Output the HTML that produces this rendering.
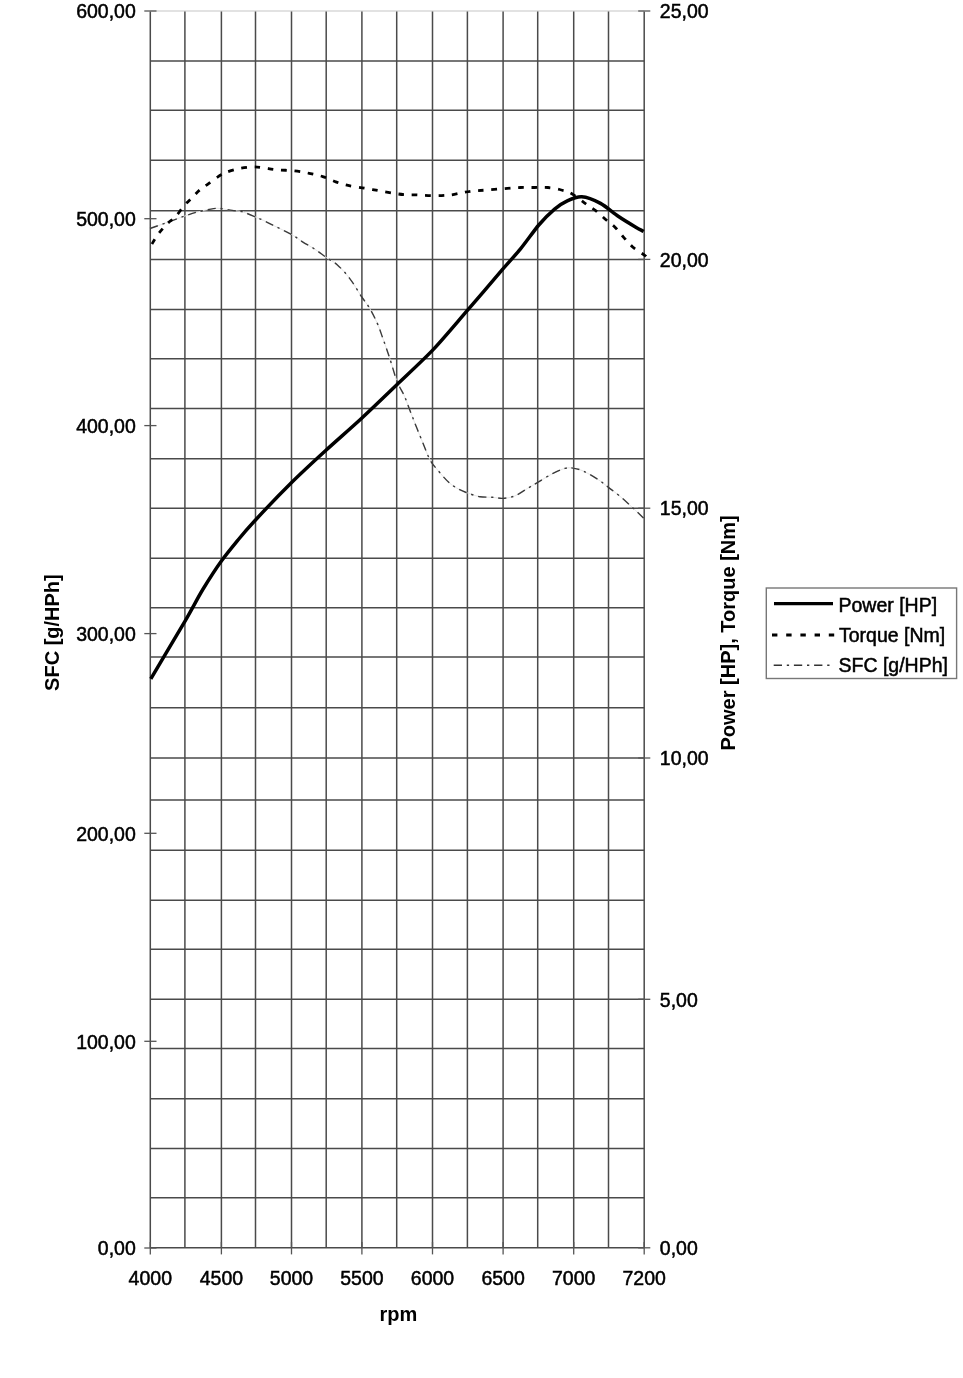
<!DOCTYPE html><html><head><meta charset="utf-8"><style>html,body{margin:0;padding:0;background:#fff;}svg{display:block;will-change:transform;}text{font-family:"Liberation Sans", sans-serif;fill:#000;stroke:#000;stroke-width:0.5px;}</style></head><body>
<svg width="963" height="1378" viewBox="0 0 963 1378">
<rect width="963" height="1378" fill="#fff"/>
<line x1="150.3" y1="11.0" x2="644.2" y2="11.0" stroke="#d8d8d8" stroke-width="1.6"/><line x1="150.3" y1="61.0" x2="644.2" y2="61.0" stroke="#4a4a4a" stroke-width="1.5"/><line x1="150.3" y1="110.2" x2="644.2" y2="110.2" stroke="#4a4a4a" stroke-width="1.5"/><line x1="150.3" y1="160.3" x2="644.2" y2="160.3" stroke="#4a4a4a" stroke-width="1.5"/><line x1="150.3" y1="210.7" x2="644.2" y2="210.7" stroke="#4a4a4a" stroke-width="1.5"/><line x1="150.3" y1="259.4" x2="644.2" y2="259.4" stroke="#4a4a4a" stroke-width="1.5"/><line x1="150.3" y1="309.4" x2="644.2" y2="309.4" stroke="#4a4a4a" stroke-width="1.5"/><line x1="150.3" y1="358.8" x2="644.2" y2="358.8" stroke="#4a4a4a" stroke-width="1.5"/><line x1="150.3" y1="408.6" x2="644.2" y2="408.6" stroke="#4a4a4a" stroke-width="1.5"/><line x1="150.3" y1="458.7" x2="644.2" y2="458.7" stroke="#4a4a4a" stroke-width="1.5"/><line x1="150.3" y1="508.2" x2="644.2" y2="508.2" stroke="#4a4a4a" stroke-width="1.5"/><line x1="150.3" y1="558.2" x2="644.2" y2="558.2" stroke="#4a4a4a" stroke-width="1.5"/><line x1="150.3" y1="607.8" x2="644.2" y2="607.8" stroke="#4a4a4a" stroke-width="1.5"/><line x1="150.3" y1="657.1" x2="644.2" y2="657.1" stroke="#4a4a4a" stroke-width="1.5"/><line x1="150.3" y1="707.8" x2="644.2" y2="707.8" stroke="#4a4a4a" stroke-width="1.5"/><line x1="150.3" y1="758.0" x2="644.2" y2="758.0" stroke="#4a4a4a" stroke-width="1.5"/><line x1="150.3" y1="800.0" x2="644.2" y2="800.0" stroke="#4a4a4a" stroke-width="1.5"/><line x1="150.3" y1="850.2" x2="644.2" y2="850.2" stroke="#4a4a4a" stroke-width="1.5"/><line x1="150.3" y1="900.3" x2="644.2" y2="900.3" stroke="#4a4a4a" stroke-width="1.5"/><line x1="150.3" y1="949.3" x2="644.2" y2="949.3" stroke="#4a4a4a" stroke-width="1.5"/><line x1="150.3" y1="999.3" x2="644.2" y2="999.3" stroke="#4a4a4a" stroke-width="1.5"/><line x1="150.3" y1="1048.5" x2="644.2" y2="1048.5" stroke="#4a4a4a" stroke-width="1.5"/><line x1="150.3" y1="1098.7" x2="644.2" y2="1098.7" stroke="#4a4a4a" stroke-width="1.5"/><line x1="150.3" y1="1148.5" x2="644.2" y2="1148.5" stroke="#4a4a4a" stroke-width="1.5"/><line x1="150.3" y1="1197.7" x2="644.2" y2="1197.7" stroke="#4a4a4a" stroke-width="1.5"/><line x1="150.3" y1="1247.8" x2="644.2" y2="1247.8" stroke="#4a4a4a" stroke-width="1.5"/><line x1="150.3" y1="11.5" x2="150.3" y2="1247.8" stroke="#4a4a4a" stroke-width="1.5"/><line x1="184.9" y1="11.5" x2="184.9" y2="1247.8" stroke="#4a4a4a" stroke-width="1.5"/><line x1="221.4" y1="11.5" x2="221.4" y2="1247.8" stroke="#4a4a4a" stroke-width="1.5"/><line x1="255.5" y1="11.5" x2="255.5" y2="1247.8" stroke="#4a4a4a" stroke-width="1.5"/><line x1="291.5" y1="11.5" x2="291.5" y2="1247.8" stroke="#4a4a4a" stroke-width="1.5"/><line x1="326.2" y1="11.5" x2="326.2" y2="1247.8" stroke="#4a4a4a" stroke-width="1.5"/><line x1="361.9" y1="11.5" x2="361.9" y2="1247.8" stroke="#4a4a4a" stroke-width="1.5"/><line x1="396.7" y1="11.5" x2="396.7" y2="1247.8" stroke="#4a4a4a" stroke-width="1.5"/><line x1="432.5" y1="11.5" x2="432.5" y2="1247.8" stroke="#4a4a4a" stroke-width="1.5"/><line x1="467.4" y1="11.5" x2="467.4" y2="1247.8" stroke="#4a4a4a" stroke-width="1.5"/><line x1="503.1" y1="11.5" x2="503.1" y2="1247.8" stroke="#4a4a4a" stroke-width="1.5"/><line x1="537.7" y1="11.5" x2="537.7" y2="1247.8" stroke="#4a4a4a" stroke-width="1.5"/><line x1="573.7" y1="11.5" x2="573.7" y2="1247.8" stroke="#4a4a4a" stroke-width="1.5"/><line x1="608.5" y1="11.5" x2="608.5" y2="1247.8" stroke="#4a4a4a" stroke-width="1.5"/><line x1="644.2" y1="11.5" x2="644.2" y2="1247.8" stroke="#4a4a4a" stroke-width="1.5"/>
<line x1="144.3" y1="11.0" x2="156.5" y2="11.0" stroke="#555" stroke-width="1.3"/><text x="135.8" y="18.2" font-size="19.5" text-anchor="end">600,00</text><line x1="144.3" y1="218.7" x2="156.5" y2="218.7" stroke="#555" stroke-width="1.3"/><text x="135.8" y="225.9" font-size="19.5" text-anchor="end">500,00</text><line x1="144.3" y1="425.6" x2="156.5" y2="425.6" stroke="#555" stroke-width="1.3"/><text x="135.8" y="432.8" font-size="19.5" text-anchor="end">400,00</text><line x1="144.3" y1="633.6" x2="156.5" y2="633.6" stroke="#555" stroke-width="1.3"/><text x="135.8" y="640.8" font-size="19.5" text-anchor="end">300,00</text><line x1="144.3" y1="833.3" x2="156.5" y2="833.3" stroke="#555" stroke-width="1.3"/><text x="135.8" y="840.5" font-size="19.5" text-anchor="end">200,00</text><line x1="144.3" y1="1041.3" x2="156.5" y2="1041.3" stroke="#555" stroke-width="1.3"/><text x="135.8" y="1048.5" font-size="19.5" text-anchor="end">100,00</text><line x1="144.3" y1="1248.0" x2="156.5" y2="1248.0" stroke="#555" stroke-width="1.3"/><text x="135.8" y="1255.2" font-size="19.5" text-anchor="end">0,00</text><line x1="638.2" y1="11.0" x2="650.3" y2="11.0" stroke="#555" stroke-width="1.3"/><text x="659.8" y="18.2" font-size="19.5">25,00</text><line x1="638.2" y1="259.4" x2="650.3" y2="259.4" stroke="#555" stroke-width="1.3"/><text x="659.8" y="266.6" font-size="19.5">20,00</text><line x1="638.2" y1="508.2" x2="650.3" y2="508.2" stroke="#555" stroke-width="1.3"/><text x="659.8" y="515.4" font-size="19.5">15,00</text><line x1="638.2" y1="758.0" x2="650.3" y2="758.0" stroke="#555" stroke-width="1.3"/><text x="659.8" y="765.2" font-size="19.5">10,00</text><line x1="638.2" y1="999.3" x2="650.3" y2="999.3" stroke="#555" stroke-width="1.3"/><text x="659.8" y="1006.5" font-size="19.5">5,00</text><line x1="638.2" y1="1247.8" x2="650.3" y2="1247.8" stroke="#555" stroke-width="1.3"/><text x="659.8" y="1255.0" font-size="19.5">0,00</text><line x1="150.3" y1="1242" x2="150.3" y2="1254.4" stroke="#555" stroke-width="1.3"/><text x="150.3" y="1284.8" font-size="19.5" text-anchor="middle">4000</text><line x1="221.4" y1="1242" x2="221.4" y2="1254.4" stroke="#555" stroke-width="1.3"/><text x="221.4" y="1284.8" font-size="19.5" text-anchor="middle">4500</text><line x1="291.5" y1="1242" x2="291.5" y2="1254.4" stroke="#555" stroke-width="1.3"/><text x="291.5" y="1284.8" font-size="19.5" text-anchor="middle">5000</text><line x1="361.9" y1="1242" x2="361.9" y2="1254.4" stroke="#555" stroke-width="1.3"/><text x="361.9" y="1284.8" font-size="19.5" text-anchor="middle">5500</text><line x1="432.5" y1="1242" x2="432.5" y2="1254.4" stroke="#555" stroke-width="1.3"/><text x="432.5" y="1284.8" font-size="19.5" text-anchor="middle">6000</text><line x1="503.1" y1="1242" x2="503.1" y2="1254.4" stroke="#555" stroke-width="1.3"/><text x="503.1" y="1284.8" font-size="19.5" text-anchor="middle">6500</text><line x1="573.7" y1="1242" x2="573.7" y2="1254.4" stroke="#555" stroke-width="1.3"/><text x="573.7" y="1284.8" font-size="19.5" text-anchor="middle">7000</text><line x1="644.2" y1="1242" x2="644.2" y2="1254.4" stroke="#555" stroke-width="1.3"/><text x="644.2" y="1284.8" font-size="19.5" text-anchor="middle">7200</text>
<path d="M150.0 228.5 C152.9 227.5 161.6 224.4 167.4 222.3 C173.2 220.2 179.7 217.8 184.9 216.0 C190.1 214.2 193.8 212.9 198.6 211.7 C203.4 210.5 209.8 209.1 213.5 208.6 C217.2 208.1 217.9 208.3 221.0 208.6 C224.1 208.9 228.7 209.9 232.2 210.4 C235.7 210.9 238.4 210.6 242.2 211.7 C245.9 212.8 251.2 215.2 254.7 216.7 C258.2 218.1 260.4 219.0 263.4 220.4 C266.4 221.8 268.2 222.8 272.9 225.2 C277.6 227.5 286.7 231.7 291.6 234.5 C296.5 237.3 298.6 239.3 302.5 241.8 C306.4 244.3 311.1 246.7 315.0 249.3 C318.9 251.9 322.5 254.8 326.2 257.4 C329.9 260.0 333.5 261.4 337.4 264.9 C341.3 268.4 345.9 273.4 349.8 278.6 C353.8 283.8 357.8 291.0 361.1 296.0 C364.4 301.0 367.1 303.9 369.8 308.5 C372.5 313.1 375.1 318.4 377.3 323.4 C379.5 328.4 380.8 332.6 382.9 338.4 C385.0 344.2 387.3 351.0 389.7 358.2 C392.1 365.4 394.6 375.1 397.1 381.5 C399.6 387.9 402.0 390.4 404.6 396.5 C407.2 402.6 409.8 410.4 412.9 418.1 C415.9 425.9 420.0 436.0 422.9 443.0 C425.8 450.0 427.6 455.4 430.0 459.9 C432.4 464.4 434.4 466.2 437.5 469.9 C440.6 473.6 445.2 479.1 448.7 482.3 C452.2 485.5 455.6 487.4 458.7 489.2 C461.8 491.0 463.9 491.6 467.4 492.9 C470.9 494.1 475.6 496.0 479.8 496.7 C484.0 497.4 488.5 497.0 492.3 497.3 C496.1 497.6 499.2 498.5 502.9 498.3 C506.6 498.1 510.7 497.6 514.7 496.0 C518.8 494.4 523.4 490.9 527.2 488.6 C531.1 486.3 533.6 484.8 537.8 482.3 C542.0 479.8 548.0 476.0 552.5 473.7 C557.0 471.4 561.5 469.3 564.9 468.4 C568.3 467.5 569.9 467.6 573.0 468.1 C576.1 468.6 579.3 469.2 583.6 471.2 C587.9 473.2 594.5 477.2 598.6 479.9 C602.8 482.6 605.0 484.7 608.5 487.4 C612.0 490.1 615.8 492.8 619.8 496.1 C623.8 499.4 628.2 503.6 632.2 507.3 C636.2 511.0 642.0 516.6 644.0 518.5" fill="none" stroke="#e2e2e2" stroke-width="0.9"/>
<path d="M150.0 228.5 C152.9 227.5 161.6 224.4 167.4 222.3 C173.2 220.2 179.7 217.8 184.9 216.0 C190.1 214.2 193.8 212.9 198.6 211.7 C203.4 210.5 209.8 209.1 213.5 208.6 C217.2 208.1 217.9 208.3 221.0 208.6 C224.1 208.9 228.7 209.9 232.2 210.4 C235.7 210.9 238.4 210.6 242.2 211.7 C245.9 212.8 251.2 215.2 254.7 216.7 C258.2 218.1 260.4 219.0 263.4 220.4 C266.4 221.8 268.2 222.8 272.9 225.2 C277.6 227.5 286.7 231.7 291.6 234.5 C296.5 237.3 298.6 239.3 302.5 241.8 C306.4 244.3 311.1 246.7 315.0 249.3 C318.9 251.9 322.5 254.8 326.2 257.4 C329.9 260.0 333.5 261.4 337.4 264.9 C341.3 268.4 345.9 273.4 349.8 278.6 C353.8 283.8 357.8 291.0 361.1 296.0 C364.4 301.0 367.1 303.9 369.8 308.5 C372.5 313.1 375.1 318.4 377.3 323.4 C379.5 328.4 380.8 332.6 382.9 338.4 C385.0 344.2 387.3 351.0 389.7 358.2 C392.1 365.4 394.6 375.1 397.1 381.5 C399.6 387.9 402.0 390.4 404.6 396.5 C407.2 402.6 409.8 410.4 412.9 418.1 C415.9 425.9 420.0 436.0 422.9 443.0 C425.8 450.0 427.6 455.4 430.0 459.9 C432.4 464.4 434.4 466.2 437.5 469.9 C440.6 473.6 445.2 479.1 448.7 482.3 C452.2 485.5 455.6 487.4 458.7 489.2 C461.8 491.0 463.9 491.6 467.4 492.9 C470.9 494.1 475.6 496.0 479.8 496.7 C484.0 497.4 488.5 497.0 492.3 497.3 C496.1 497.6 499.2 498.5 502.9 498.3 C506.6 498.1 510.7 497.6 514.7 496.0 C518.8 494.4 523.4 490.9 527.2 488.6 C531.1 486.3 533.6 484.8 537.8 482.3 C542.0 479.8 548.0 476.0 552.5 473.7 C557.0 471.4 561.5 469.3 564.9 468.4 C568.3 467.5 569.9 467.6 573.0 468.1 C576.1 468.6 579.3 469.2 583.6 471.2 C587.9 473.2 594.5 477.2 598.6 479.9 C602.8 482.6 605.0 484.7 608.5 487.4 C612.0 490.1 615.8 492.8 619.8 496.1 C623.8 499.4 628.2 503.6 632.2 507.3 C636.2 511.0 642.0 516.6 644.0 518.5" fill="none" stroke="#3a3a3a" stroke-width="1.4" stroke-dasharray="8.3 4.8 2.3 4.8"/>
<path d="M151.9 244.1 C153.0 242.3 156.1 236.9 158.7 233.5 C161.3 230.1 164.6 226.3 167.4 223.5 C170.2 220.7 172.7 219.7 175.5 216.7 C178.3 213.7 181.5 208.7 184.3 205.5 C187.1 202.3 189.8 200.0 192.4 197.4 C195.0 194.8 197.1 192.2 199.8 189.9 C202.5 187.6 205.3 186.0 208.6 183.6 C211.9 181.2 216.9 177.4 219.8 175.5 C222.7 173.6 222.9 173.5 226.0 172.4 C229.1 171.3 234.2 169.6 238.5 168.7 C242.8 167.8 248.1 167.2 252.1 167.0 C256.1 166.8 258.5 167.2 262.5 167.7 C266.5 168.1 270.8 169.2 276.0 169.7 C281.2 170.2 288.1 170.2 293.6 170.8 C299.1 171.4 304.4 172.3 309.2 173.3 C314.0 174.3 318.5 175.3 322.7 176.6 C326.9 177.9 330.3 179.8 334.1 181.2 C337.9 182.6 340.8 183.8 345.5 184.9 C350.2 186.0 356.7 186.9 362.1 187.8 C367.5 188.7 372.5 189.6 377.7 190.5 C382.9 191.4 388.8 192.5 393.3 193.2 C397.8 193.9 400.7 194.4 404.7 194.7 C408.7 195.0 412.2 194.7 417.2 194.9 C422.2 195.1 429.3 195.7 434.8 195.7 C440.3 195.7 445.3 195.5 450.0 195.0 C454.7 194.5 459.1 193.2 463.2 192.5 C467.3 191.8 470.9 191.2 474.9 190.8 C478.9 190.4 482.3 190.4 487.3 190.0 C492.3 189.6 499.3 189.0 504.8 188.6 C510.3 188.2 515.5 187.7 520.5 187.5 C525.5 187.3 530.1 187.5 534.7 187.5 C539.3 187.5 543.6 187.1 548.0 187.5 C552.4 187.9 557.4 189.0 561.3 190.0 C565.2 191.0 567.2 191.1 571.4 193.5 C575.6 195.9 582.4 201.5 586.5 204.4 C590.6 207.3 593.0 208.6 596.3 211.2 C599.6 213.8 603.1 217.3 606.2 220.0 C609.3 222.7 612.0 224.3 615.0 227.2 C618.0 230.1 620.9 234.3 623.9 237.6 C626.9 240.9 629.3 244.1 632.7 247.0 C636.1 249.9 641.9 253.2 644.1 254.8 C646.3 256.4 645.7 256.2 646.0 256.5" fill="none" stroke="#000" stroke-width="2.8" stroke-dasharray="5.6 7.754"/>
<path d="M150.8 678.8 C155.3 671.1 177.9 633.3 184.9 621.3 C191.9 609.3 198.2 597.0 203.1 589.0 C208.0 581.0 216.7 567.5 221.4 561.0 C226.1 554.5 233.5 545.5 238.0 540.0 C242.5 534.5 248.4 527.7 255.5 520.0 C262.6 512.3 282.2 491.8 291.6 482.5 C301.0 473.2 316.4 459.0 325.7 450.5 C335.0 442.0 351.9 427.3 361.4 418.5 C370.9 409.7 387.6 393.6 397.1 384.5 C406.6 375.4 423.5 359.8 432.9 349.9 C442.3 340.0 458.1 321.1 467.4 310.4 C476.7 299.7 495.2 277.9 502.3 269.7 C509.4 261.5 515.6 254.9 520.5 248.9 C525.4 242.9 534.3 230.3 538.8 225.0 C543.3 219.7 550.8 212.3 554.6 209.1 C558.4 205.9 563.7 202.4 567.3 200.8 C570.9 199.2 577.4 196.5 581.8 196.8 C586.2 197.1 595.6 200.8 600.5 203.4 C605.4 206.0 613.5 213.1 618.2 216.3 C622.9 219.5 632.4 225.2 635.8 227.2 C639.2 229.2 642.6 230.8 643.6 231.4" fill="none" stroke="#000" stroke-width="3.5" stroke-linejoin="round"/>
<text x="398.4" y="1320.6" font-size="20" font-weight="bold" style="stroke-width:0" text-anchor="middle">rpm</text>
<text transform="translate(58.8 632.6) rotate(-90)" x="0" y="0" font-size="20" font-weight="bold" style="stroke-width:0" text-anchor="middle">SFC [g/HPh]</text>
<text transform="translate(735.3 632.9) rotate(-90)" x="0" y="0" font-size="20" font-weight="bold" style="stroke-width:0" text-anchor="middle">Power [HP], Torque [Nm]</text>
<rect x="766.3" y="588" width="190.3" height="90.5" fill="#fff" stroke="#777" stroke-width="1.4"/>
<line x1="774" y1="603.6" x2="833" y2="603.6" stroke="#000" stroke-width="3.2"/>
<line x1="772" y1="635" x2="835" y2="635" stroke="#000" stroke-width="3.2" stroke-dasharray="5.4 8.8"/>
<line x1="773.7" y1="665.3" x2="830" y2="665.3" stroke="#333" stroke-width="1.6" stroke-dasharray="8.3 4.8 2.3 4.8"/>
<text x="838.5" y="611.9" font-size="19.5">Power [HP]</text>
<text x="839" y="641.6" font-size="19.5">Torque [Nm]</text>
<text x="838.5" y="672.4" font-size="19.5">SFC [g/HPh]</text>
</svg></body></html>
